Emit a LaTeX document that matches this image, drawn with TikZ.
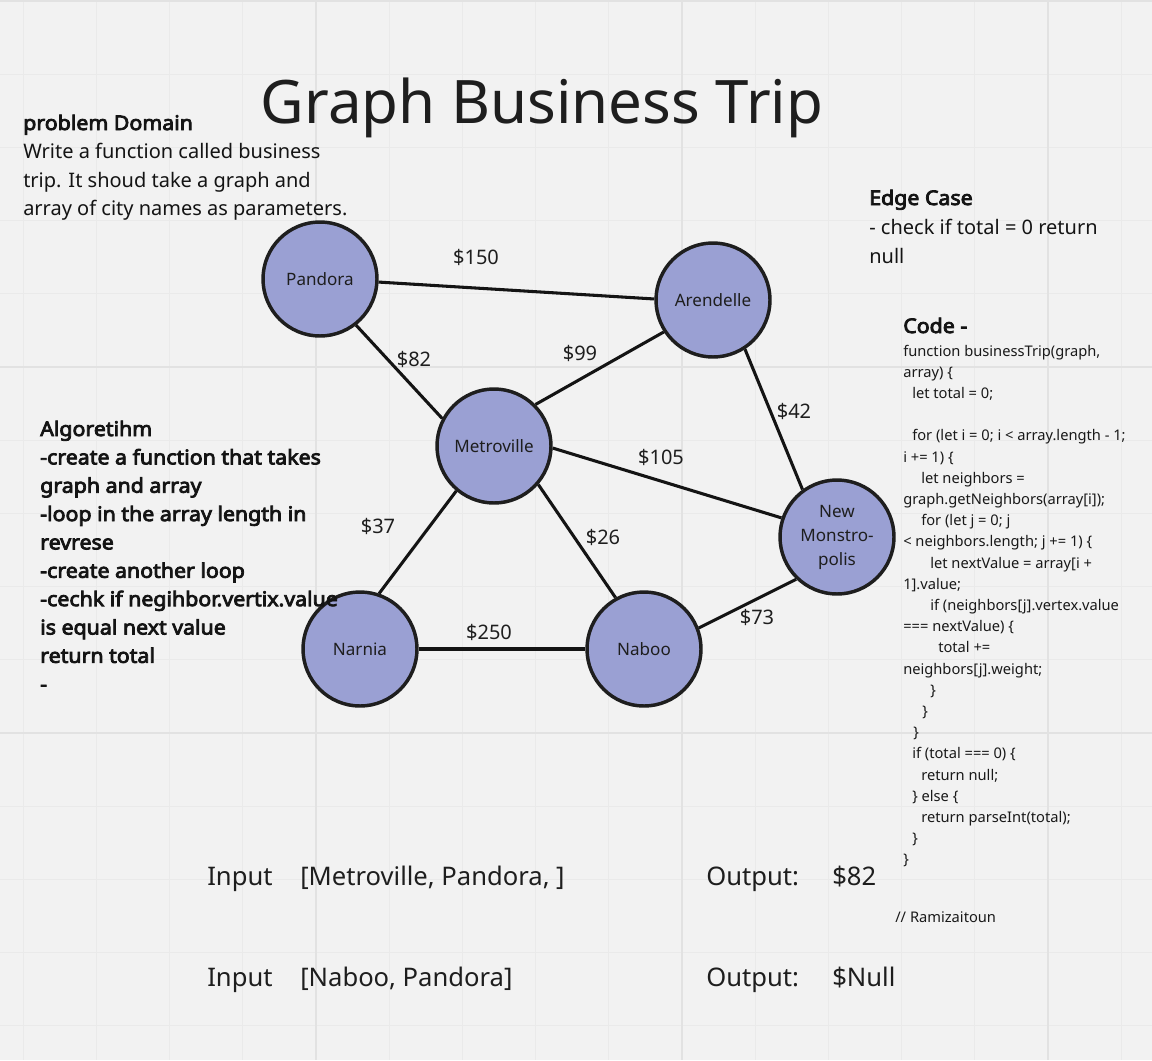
\documentclass[tikz,border=0pt]{standalone}
\usepackage{fontspec}
\setmainfont{Noto Sans}
\newfontfamily\boldfam{Noto Sans}[FakeBold=4, FakeStretch=1.06]
\definecolor{bg}{HTML}{F2F2F2}
\definecolor{gridminor}{HTML}{EAEAEA}
\definecolor{gridmajor}{HTML}{E2E2E2}
\definecolor{cityfill}{HTML}{9AA0D3}
\definecolor{ink}{HTML}{1E1E1E}
\tikzset{
  city/.style={circle, draw=ink, line width=2.6pt, fill=cityfill, minimum size=85.5pt,
    inner sep=0pt, font=\fontsize{12.8}{18}\selectfont, text=ink, align=center},
  road/.style={line width=2.3pt, draw=black!92},
  cost/.style={font=\fontsize{15}{18}\selectfont, text=ink, inner sep=0pt},
  body/.style={font=\fontsize{15}{21}\selectfont, anchor=base west, inner sep=0pt, text=black!92},
  bodybold/.style={body, font=\boldfam\fontsize{15.1}{21}\selectfont},
  codeline/.style={font=\fontsize{11}{15}\selectfont, anchor=base west, inner sep=0pt, text=black!90},
  io/.style={font=\fontsize{19.2}{22}\selectfont, anchor=base west, inner sep=0pt, text=ink},
}
\begin{document}
\begin{tikzpicture}[x=0.75pt, y=-0.75pt]
\useasboundingbox (0,0) rectangle (1152,1060);
\fill[bg] (0,0) rectangle (1152,1060);
% grid
\foreach \k in {0,...,15} \draw[gridminor, line width=0.9pt] ({23.2+73.2*\k},0) -- ({23.2+73.2*\k},1060);
\foreach \k in {0,...,14} \draw[gridminor, line width=0.9pt] (0,{1+73.2*\k}) -- (1152,{1+73.2*\k});
\foreach \k in {4,9,14} \draw[gridmajor, line width=1.5pt] ({23.2+73.2*\k},0) -- ({23.2+73.2*\k},1060);
\foreach \k in {0,5,10} \draw[gridmajor, line width=1.5pt] (0,{1+73.2*\k}) -- (1152,{1+73.2*\k});

% title
\node[font=\fontsize{45}{52}\selectfont, anchor=base, inner sep=0pt, text=ink] (title) at (542,123) {Graph Business Trip};

% cities
\node[city] (pandora) at (320,279) {Pandora};
\node[city] (arendelle) at (713,300) {Arendelle};
\node[city] (metro) at (494,446) {Metroville};
\node[city] (newm) at (837,537) {New\\Monstro-\\polis};
\node[city] (narnia) at (360,649) {Narnia};
\node[city] (naboo) at (644,649) {Naboo};

% roads
\draw[road] (pandora.-3) -- (arendelle.179);
\draw[road] (pandora.-52) -- (metro.152);
\draw[road] (arendelle.-147) -- (metro.45);
\draw[road] (arendelle.-57) -- (newm.126);
\draw[road] (metro.-2) -- (newm.161);
\draw[road] (metro.-130) -- (narnia.71);
\draw[road] (metro.-41) -- (naboo.119);
\draw[road] (narnia) -- (naboo);
\draw[road] (naboo.21) -- (newm.-134);

% costs
\node[cost] (c150) at (476,257) {\$150};
\node[cost] (c82) at (414,359) {\$82};
\node[cost] (c99) at (580,353) {\$99};
\node[cost] (c42) at (794,411) {\$42};
\node[cost] (c105) at (661,457) {\$105};
\node[cost] (c37) at (378,526) {\$37};
\node[cost] (c26) at (603,537) {\$26};
\node[cost] (c250) at (489,632) {\$250};
\node[cost] (c73) at (757,617) {\$73};

% problem domain
\node[bodybold] (pdh) at (23,130) {problem Domain};
\foreach \t [count=\i] in {{Write a function called business},{trip. It shoud take a graph and},{array of city names as parameters.}}
  \node[body] (pd\i) at (23,{130+28.5*\i}) {\t};

% edge case
\node[bodybold] (ech) at (869,205) {Edge Case};
\foreach \t [count=\i] in {{- check if total = 0 return},{null}}
  \node[body] (ec\i) at (869,{205+29*\i}) {\t};

% algorithm
\node[bodybold] (alh) at (40,436) {Algoretihm};
\foreach \t [count=\i] in {{-create a function that takes},{graph and array},{-loop in the array length in},{revrese},{-create another loop},{-cechk if negihbor.vertix.value},{is equal next value},{return total},{-}}
  \node[bodybold] (al\i) at (40,{436+28.35*\i}) {\t};

% code
\node[bodybold] (codeh) at (903,333) {Code -};
\foreach \dx/\n/\t in {0/1/{function businessTrip(graph,},0/2/{array) \{},9/3/{let total = 0;},
  9/5/{for (let i = 0; i < array.length - 1;},0/6/{i += 1) \{},18/7/{let neighbors =},
  0/8/{graph.getNeighbors(array[i]);},18/9/{for (let j = 0; j},0/10/{< neighbors.length; j += 1) \{},
  27/11/{let nextValue = array[i +},0/12/{1].value;},27/13/{if (neighbors[j].vertex.value},
  0/14/{=== nextValue) \{},35/15/{total +=},0/16/{neighbors[j].weight;},27/17/{\}},19/18/{\}},
  10/19/{\}},9/20/{if (total === 0) \{},18/21/{return null;},9/22/{\} else \{},
  18/23/{return parseInt(total);},9/24/{\}},0/25/{\}}}
  \node[codeline] (code\n) at ({903+\dx},{356+21.2*(\n-1)}) {\t};
\node[codeline] (author) at (895,922) {// Ramizaitoun};

% inputs / outputs
\node[io] (in1) at (207,885) {Input};
\node[io] (in1v) at (300,885) {[Metroville, Pandora, ]};
\node[io] (out1) at (706,885) {Output:};
\node[io] (out1v) at (832,885) {\$82};
\node[io] (in2) at (207,986) {Input};
\node[io] (in2v) at (300,986) {[Naboo, Pandora]};
\node[io] (out2) at (706,986) {Output:};
\node[io] (out2v) at (832,986) {\$Null};
\end{tikzpicture}
\end{document}
